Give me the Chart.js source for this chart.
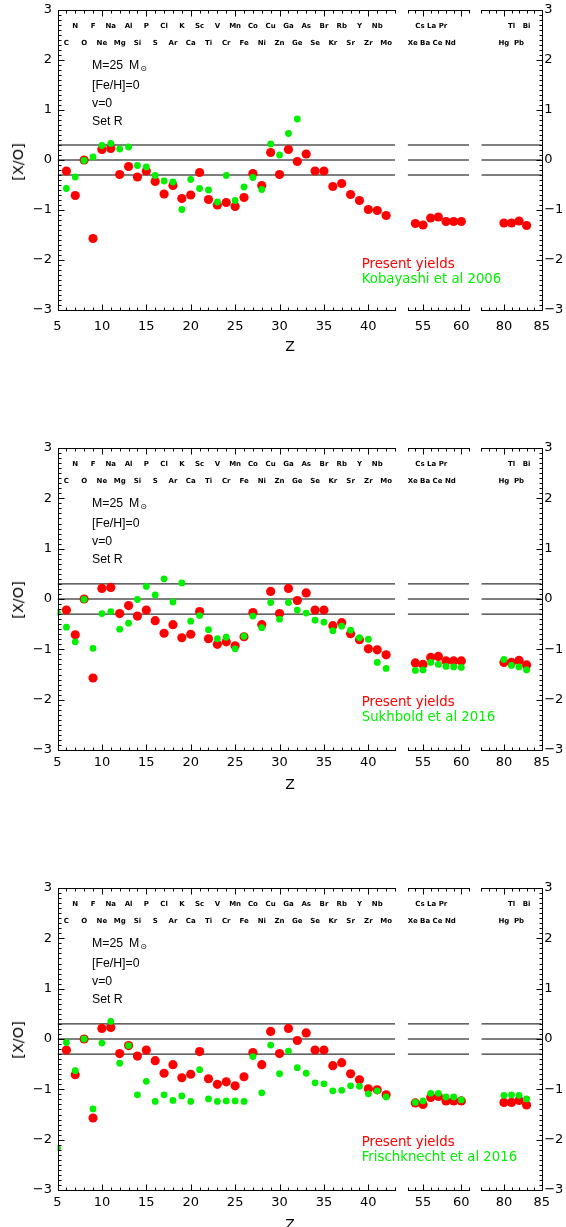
<!DOCTYPE html>
<html><head><meta charset="utf-8">
<script src="https://cdn.jsdelivr.net/npm/chart.js@4/dist/chart.umd.min.js"></script>
<style>
html,body{margin:0;padding:0;background:#fff;}
#page{position:relative;width:566px;height:1227px;overflow:hidden;background:#fff;color:#000;}
canvas{position:absolute;}
.t{position:absolute;white-space:nowrap;}
.ann{font-family:'Liberation Sans',sans-serif;font-size:12.3px;line-height:18px;}
.leg{font-family:'DejaVu Sans',sans-serif;font-size:13.3px;line-height:15px;}
.ytitle{font-family:'DejaVu Sans',sans-serif;font-size:14.5px;transform:translate(-50%,-50%) rotate(-90deg);}
.xtitle{font-family:'DejaVu Sans',sans-serif;font-size:14px;transform:translate(-50%,-50%);}
</style></head><body><div id="page"></div>
<script>
// ---------------- DATA ----------------
const presentZ = [6,7,8,9,10,11,12,13,14,15,16,17,18,19,20,21,22,23,24,25,26,27,28,29,30,31,32,33,34,35,36,37,38,39,40,41,42,
                  54,55,56,57,58,59,60, 80,81,82,83];
const presentYields = [-0.22,-0.71,0.00,-1.57,0.21,0.23,-0.29,-0.13,-0.34,-0.22,-0.43,-0.68,-0.51,-0.77,-0.70,-0.25,-0.79,-0.90,-0.85,-0.93,
                  -0.75,-0.27,-0.51,0.15,-0.29,0.21,-0.03,0.12,-0.22,-0.22,-0.53,-0.47,-0.69,-0.81,-0.99,-1.01,-1.11,
                  -1.27,-1.30,-1.16,-1.14,-1.23,-1.23,-1.23, -1.26,-1.26,-1.22,-1.31];

const kobayashiZ = [6,7,8,9,10,11,12,13,14,15,16,17,18,19,20,21,22,23,24,25,26,27,28,29,30,31,32];
const kobayashi2006 = [-0.57,-0.34,-0.01,0.06,0.29,0.33,0.22,0.26,-0.11,-0.14,-0.31,-0.42,-0.44,-0.99,-0.39,-0.57,-0.60,-0.84,-0.31,-0.81,
                  -0.54,-0.35,-0.59,0.32,0.10,0.53,0.82];

const sukhboldZ = [5,6,7,8,9,10,11,12,13,14,15,16,17,18,19,20,21,22,23,24,25,26,27,28,29,30,31,32,33,34,35,36,37,38,39,40,41,42,
                  54,55,56,57,58,59,60, 80,81,82,83];
const sukhbold2016 = [-0.27,-0.56,-0.85,-0.01,-0.98,-0.29,-0.25,-0.60,-0.48,-0.01,0.25,0.08,0.40,-0.06,0.32,-0.44,-0.33,-0.61,-0.79,-0.76,
                  -0.99,-0.74,-0.34,-0.57,-0.07,-0.40,-0.07,-0.22,-0.28,-0.42,-0.46,-0.63,-0.54,-0.62,-0.77,-0.80,-1.26,-1.38,
                  -1.42,-1.41,-1.26,-1.30,-1.34,-1.35,-1.36, -1.20,-1.32,-1.35,-1.41];

const frischknechtZ = [5,6,7,8,9,10,11,12,13,14,15,16,17,18,19,20,21,22,23,24,25,26,27,28,29,30,31,32,33,34,35,36,37,38,39,40,41,42,
                  54,55,56,57,58,59,60, 80,81,82,83];
const frischknecht2016 = [-2.17,-0.07,-0.63,0.00,-1.39,-0.08,0.35,-0.48,-0.13,-1.11,-0.84,-1.24,-1.11,-1.22,-1.13,-1.24,-0.61,-1.19,-1.24,-1.23,
                  -1.23,-1.24,-0.35,-1.07,-0.12,-0.69,-0.24,-0.57,-0.68,-0.87,-0.89,-1.03,-1.02,-0.93,-0.94,-1.09,-1.03,-1.15,
                  -1.26,-1.23,-1.08,-1.08,-1.15,-1.15,-1.21, -1.12,-1.11,-1.12,-1.19];

const elemZ = [6,7,8,9,10,11,12,13,14,15,16,17,18,19,20,21,22,23,24,25,26,27,28,29,30,31,32,33,34,35,36,37,38,39,40,41,42,
               54,55,56,57,58,59,60, 80,81,82,83];
const elemSym = ['C','N','O','F','Ne','Na','Mg','Al','Si','P','S','Cl','Ar','K','Ca','Sc','Ti','V','Cr','Mn','Fe','Co','Ni','Cu','Zn',
               'Ga','Ge','As','Se','Br','Kr','Rb','Sr','Y','Zr','Nb','Mo','Xe','Cs','Ba','La','Ce','Pr','Nd','Hg','Tl','Pb','Bi'];

const xTicks1 = [5,10,15,20,25,30,35,40];
const xTicks2 = [55,60];
const xTicks3 = [80,85];
const yTicks = [-3,-2,-1,0,1,2,3];
const refLines = [0.3, 0, -0.3];
const annotation = ['M=25 M', '[Fe/H]=0', 'v=0', 'Set R'];
const legendMain = 'Present yields';
const legendCompare = ['Kobayashi et al 2006', 'Sukhbold et al 2016', 'Frischknecht et al 2016'];

// ---------------- LAYOUT ----------------
const RED = '#ff0000', GREEN = '#00f000';
Chart.defaults.font.family = "'DejaVu Sans', sans-serif";
Chart.defaults.color = '#000';

const panels = [
  {top:10,  h:300, z:kobayashiZ,    v:kobayashi2006,    name:legendCompare[0], xpad:9},
  {top:448, h:302, z:sukhboldZ,     v:sukhbold2016,     name:legendCompare[1], xpad:5},
  {top:888, h:302, z:frischknechtZ, v:frischknecht2016, name:legendCompare[2], xpad:5},
];
const segs = [
  {min:5,  max:43, left:0,   width:400, padL:0,   padR:5, yPos:'left',  yW:57.5, ticks:xTicks1, frameL:true,  frameR:false, labels:'each'},
  {min:53, max:61, left:400, width:76,  padL:7.7, padR:7, yPos:'none',  yW:0,    ticks:xTicks2, frameL:false, frameR:false, labels:'joined'},
  {min:77, max:85, left:475, width:91,  padL:6.3, padR:0, yPos:'right', yW:24.3, ticks:xTicks3, frameL:false, frameR:true,  labels:'each'},
];

const crisp = v => Math.round(v) + 0.5;
const framePlugin = {
  id:'idlFrame',
  afterDatasetsDraw(chart, args, o) {
    const {ctx, chartArea:a, scales:{x, y}} = chart;
    const L0 = crisp(a.left), R0 = crisp(a.right), T0 = crisp(a.top), B0 = crisp(a.bottom);
    ctx.save();
    ctx.strokeStyle = '#000'; ctx.lineWidth = 1;
    ctx.beginPath();
    ctx.moveTo(L0 - 0.5, T0); ctx.lineTo(R0 + 0.5, T0);
    ctx.moveTo(L0 - 0.5, B0); ctx.lineTo(R0 + 0.5, B0);
    if (o.left) { ctx.moveTo(L0, T0); ctx.lineTo(L0, B0); }
    if (o.right) { ctx.moveTo(R0, T0); ctx.lineTo(R0, B0); }
    for (let v = Math.ceil(x.min); v <= x.max; v++) {
      const px = crisp(x.getPixelForValue(v)), L = v % 5 === 0 ? 6 : 3;
      ctx.moveTo(px, T0); ctx.lineTo(px, T0 + L);
      ctx.moveTo(px, B0); ctx.lineTo(px, B0 - L);
    }
    for (let i = -30; i <= 30; i++) {
      const py = crisp(y.getPixelForValue(i / 10)), L = i % 10 === 0 ? 6 : 3;
      if (o.left) { ctx.moveTo(L0, py); ctx.lineTo(L0 + L, py); }
      if (o.right) { ctx.moveTo(R0, py); ctx.lineTo(R0 - L, py); }
    }
    ctx.stroke();
    ctx.restore();
  }
};

const labelPlugin = {
  id:'elemLabels',
  afterDatasetsDraw(chart, args, o) {
    const {ctx, scales:{x, y}} = chart;
    ctx.save();
    ctx.font = 'bold 7px "DejaVu Sans"';
    ctx.fillStyle = '#000';
    ctx.textBaseline = 'middle';
    const rows = [{odd:1, yv:2.67}, {odd:0, yv:2.345}];
    rows.forEach(r => {
      const idx = elemZ.map((z, i) => i).filter(i => elemZ[i] >= x.min && elemZ[i] <= x.max && elemZ[i] % 2 === r.odd);
      if (!idx.length) return;
      const py = y.getPixelForValue(r.yv);
      if (o.mode === 'joined') {
        ctx.textAlign = 'left';
        ctx.fillText(idx.map(i => elemSym[i]).join(' '), x.getPixelForValue(elemZ[idx[0]] - 1), py);
      } else {
        ctx.textAlign = 'center';
        idx.forEach(i => ctx.fillText(elemSym[i], x.getPixelForValue(elemZ[i]), py));
      }
    });
    ctx.restore();
  }
};

const page = document.getElementById('page');
function addText(cls, html, left, top) {
  const d = document.createElement('div');
  d.className = 't ' + cls; d.innerHTML = html;
  d.style.left = left + 'px'; d.style.top = top + 'px';
  page.appendChild(d);
}
const fmt = v => v < 0 ? '\u2212' + Math.abs(v) : String(v);
const noPad = sc => { sc.paddingLeft = 0; sc.paddingRight = 0; sc.paddingTop = 0; sc.paddingBottom = 0; };

panels.forEach((p) => {
  segs.forEach((s) => {
    const cv = document.createElement('canvas');
    const H = 10 + p.h + 50;
    cv.width = s.width; cv.height = H;
    cv.style.left = s.left + 'px'; cv.style.top = (p.top - 10) + 'px';
    page.appendChild(cv);
    const inSeg = z => z >= s.min && z <= s.max;
    const red = presentZ.map((z, i) => ({x:z, y:presentYields[i]})).filter(d => inSeg(d.x));
    const green = p.z.map((z, i) => ({x:z, y:p.v[i]})).filter(d => inSeg(d.x));
    const datasets = [
      {label:p.name, data:green, backgroundColor:GREEN, borderWidth:0, pointBorderWidth:0, pointRadius:3.4, clip:0, order:0},
      {label:legendMain, data:red, backgroundColor:RED, borderWidth:0, pointBorderWidth:0, pointRadius:4.6, clip:0, order:1},
    ];
    refLines.forEach(v => datasets.push({type:'line', label:'ref', data:[{x:s.min, y:v}, {x:s.max, y:v}],
      borderColor:'#000', borderWidth:1, pointRadius:0, order:2, clip:0}));
    new Chart(cv, {
      type:'scatter',
      data:{datasets},
      options:{
        responsive:false, animation:false, devicePixelRatio:1, events:[],
        layout:{padding:{left:s.padL, right:s.padR, top:10, bottom:10}},
        plugins:{legend:{display:false}, tooltip:{enabled:false},
                 idlFrame:{left:s.frameL, right:s.frameR}, elemLabels:{mode:s.labels}},
        scales:{
          x:{type:'linear', min:s.min, max:s.max,
             afterBuildTicks: sc => { sc.ticks = s.ticks.map(v => ({value:v})); },
             afterFit: sc => { sc.height = 40; noPad(sc); },
             grid:{display:false, drawTicks:false}, border:{display:false},
             ticks:{padding:p.xpad, font:{size:13}, color:'#000', autoSkip:false, maxRotation:0, minRotation:0, callback: v => fmt(v)}},
          y:{type:'linear', min:-3, max:3, display: s.yPos !== 'none', position: s.yPos === 'right' ? 'right' : 'left',
             afterBuildTicks: sc => { sc.ticks = yTicks.map(v => ({value:v})); },
             afterFit: sc => { sc.width = s.yW; noPad(sc); },
             grid:{display:false, drawTicks:false}, border:{display:false},
             ticks:{padding: s.yPos === 'right' ? 2.5 : 5.5, font:{size:13}, color:'#000', callback: v => fmt(v)}}
        }
      },
      plugins:[framePlugin, labelPlugin]
    });
  });
  addText('ann', 'M=25<span style="margin-left:6px">M</span>' +
          '<span style="font-family:\'DejaVu Sans\';font-size:8px;position:relative;top:2px;margin-left:1px">\u2299</span><br>' +
          annotation.slice(1).join('<br>'), 92, p.top + 45.5);
  addText('leg', '<span style="color:' + RED + '">' + legendMain + '</span><br><span style="color:' + GREEN + '">' + p.name + '</span>',
          361.7, p.top + 245.5);
  addText('ytitle', '[X/O]', 17.5, p.top + 152);
  addText('xtitle', 'Z', 290, p.top + 336);
});
</script></body></html>
